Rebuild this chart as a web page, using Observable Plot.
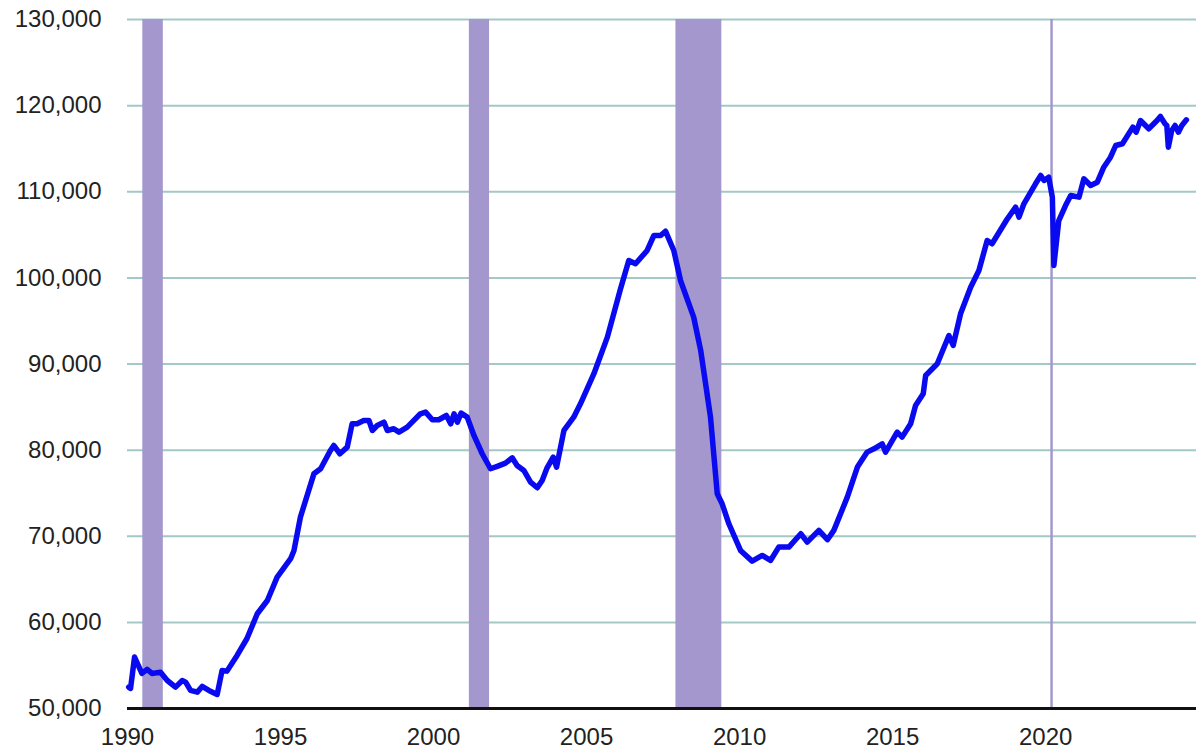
<!DOCTYPE html>
<html>
<head>
<meta charset="utf-8">
<script src="https://cdn.jsdelivr.net/npm/d3@7"></script>
<script src="https://cdn.jsdelivr.net/npm/@observablehq/plot@0.6"></script>
<style>
  html, body { margin: 0; padding: 0; background: #ffffff; }
  #chart svg { display: block; }
</style>
</head>
<body>
<div id="chart"></div>
<script>
// Time (decimal year) and value pairs
const years = [
  1990.04, 1990.1, 1990.23, 1990.47, 1990.64, 1990.8, 1991.08, 1991.3, 1991.57, 1991.79, 1991.9,
  1992.06, 1992.28, 1992.44, 1992.66, 1992.93, 1993.09, 1993.25, 1993.58, 1993.9, 1994.24, 1994.57,
  1994.89, 1995.33, 1995.44, 1995.65, 1996.09, 1996.31, 1996.63, 1996.74, 1996.94, 1997.18, 1997.34,
  1997.5, 1997.72, 1997.89, 1998.0, 1998.16, 1998.38, 1998.49, 1998.7, 1998.87, 1999.14, 1999.3,
  1999.57, 1999.74, 1999.96, 2000.17, 2000.42, 2000.56, 2000.67, 2000.78, 2000.9, 2001.1, 2001.32,
  2001.59, 2001.86, 2002.08, 2002.35, 2002.57, 2002.73, 2002.95, 2003.17, 2003.39, 2003.55, 2003.71,
  2003.91, 2004.02, 2004.26, 2004.58, 2004.8, 2005.24, 2005.68, 2006.11, 2006.38, 2006.6, 2006.98,
  2007.2, 2007.42, 2007.58, 2007.85, 2008.07, 2008.5, 2008.73, 2009.05, 2009.27, 2009.43, 2009.65,
  2010.03, 2010.41, 2010.74, 2011.01, 2011.28, 2011.61, 2012.0, 2012.21, 2012.59, 2012.87, 2013.08,
  2013.52, 2013.85, 2014.17, 2014.39, 2014.66, 2014.77, 2015.15, 2015.31, 2015.59, 2015.75, 2016.0,
  2016.08, 2016.46, 2016.84, 2016.98, 2017.22, 2017.55, 2017.82, 2018.09, 2018.25, 2018.75, 2019.02,
  2019.13, 2019.29, 2019.67, 2019.84, 2019.95, 2020.1, 2020.22, 2020.27, 2020.43, 2020.65, 2020.82,
  2021.09, 2021.25, 2021.47, 2021.69, 2021.9, 2022.12, 2022.29, 2022.51, 2022.85, 2022.96, 2023.1,
  2023.37, 2023.64, 2023.75, 2023.9, 2023.96, 2024.01, 2024.12, 2024.23, 2024.34, 2024.45, 2024.6
];
const employment = [
  52480, 52330, 55970, 54070, 54540, 54070, 54220, 53250, 52480, 53250, 53060,
  52100, 51900, 52560, 52100, 51630, 54420, 54340, 56160, 58100, 61000, 62540,
  65250, 67390, 68350, 72220, 77250, 77840, 79960, 80540, 79580, 80350, 83060,
  83060, 83440, 83440, 82280, 82860, 83250, 82280, 82480, 82090, 82670, 83250,
  84220, 84410, 83530, 83530, 84020, 83060, 84220, 83250, 84300, 83830, 81700,
  79580, 77840, 78110, 78490, 79110, 78220, 77640, 76290, 75630, 76480, 77950,
  79190, 78030, 82280, 83830, 85380, 88870, 93120, 98740, 102020, 101640, 103180,
  104920, 104920, 105420, 103180, 99700, 95440, 91570, 83830, 74930, 73770, 71450,
  68350, 67110, 67770, 67190, 68740, 68740, 70290, 69320, 70680, 69600, 70680,
  74540, 78030, 79770, 80150, 80730, 79770, 82090, 81510, 83060, 85190, 86540,
  88670, 90030, 93310, 92150, 95830, 98920, 100860, 104340, 103960, 106860, 108210,
  107050, 108600, 110920, 111890, 111310, 111690, 109370, 101440, 106660, 108400, 109570,
  109370, 111500, 110730, 111110, 112850, 114010, 115370, 115570, 117500, 116920, 118270,
  117310, 118270, 118740, 117890, 117690, 115180, 117110, 117690, 116920, 117690, 118350
];

// Recession periods (decimal years)
const recessionStart = [1990.5, 2001.17, 2007.92, 2020.17];
const recessionEnd   = [1991.17, 2001.83, 2009.42, 2020.25];

// Tick labels
const xTicks = [1990, 1995, 2000, 2005, 2010, 2015, 2020];
const yTicks = [50000, 60000, 70000, 80000, 90000, 100000, 110000, 120000, 130000];

const series = years.map((t, i) => ({t, v: employment[i]}));
const recessions = recessionStart.map((s, i) => ({s, e: recessionEnd[i]}));

const chart = Plot.plot({
  width: 1196,
  height: 751,
  marginLeft: 127,
  marginRight: 0,
  marginTop: 19,
  marginBottom: 43,
  style: {
    fontFamily: "'Liberation Sans', Arial, sans-serif",
    fontSize: "24px",
    background: "#ffffff",
    color: "#222222",
    overflow: "visible"
  },
  x: {domain: [1990, 2024.93]},
  y: {domain: [50000, 130000]},
  marks: [
    Plot.gridY(yTicks.slice(1), {stroke: "#a3c8c6", strokeOpacity: 1, strokeWidth: 2}),
    Plot.rectX(recessions, {x1: "s", x2: "e", y1: 50000, y2: 130000, fill: "#a397cd", fillOpacity: 1}),
    Plot.ruleY([50000], {stroke: "#111111", strokeWidth: 3}),
    Plot.line(series, {x: "t", y: "v", stroke: "#0a0af0", strokeWidth: 5.5, strokeLinejoin: "round", strokeLinecap: "round"}),
    Plot.axisX({ticks: xTicks, tickFormat: d => String(d), tickSize: 0, tickPadding: 19, fontSize: 24, fill: "#222222", label: null}),
    Plot.axisY({ticks: yTicks, tickFormat: d3.format(","), tickSize: 0, tickPadding: 26, fontSize: 24, fill: "#222222", label: null})
  ]
});
document.getElementById("chart").appendChild(chart);
</script>
</body>
</html>
